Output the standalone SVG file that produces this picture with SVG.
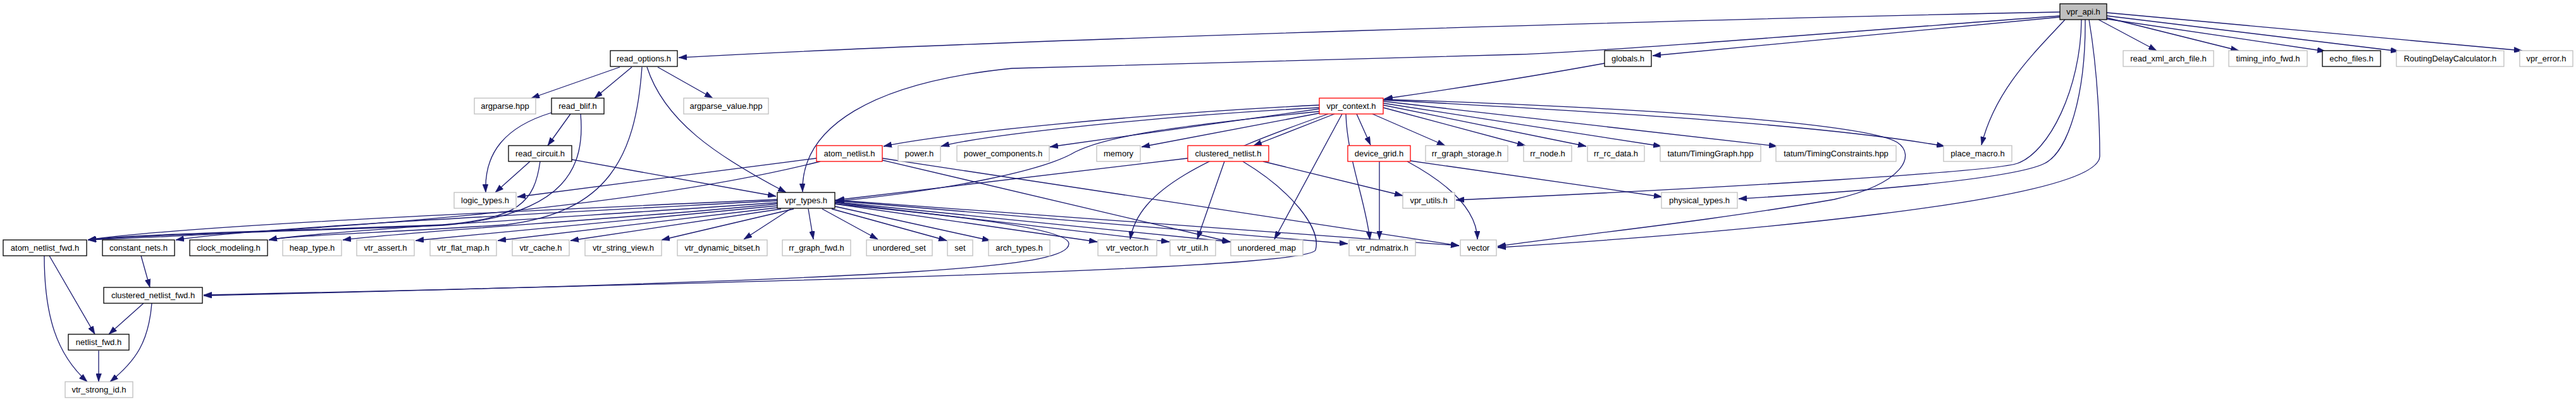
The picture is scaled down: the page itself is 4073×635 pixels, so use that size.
<svg xmlns="http://www.w3.org/2000/svg" width="4073" height="635" viewBox="0 0 4073 635">
<style>
.bg{fill:#ffffff}
rect{fill:#ffffff;stroke-width:1.3}
.ext{stroke:#bfbfbf}
.doc{stroke:#000000}
.trunc{stroke:#ff0000}
.root{fill:#bfbfbf;stroke:#000000}
text{font-family:"Liberation Sans",Arial,Helvetica,sans-serif;font-size:13px;fill:#000000;text-anchor:middle}
.edges path{fill:none;stroke:#191970;stroke-width:1.3;marker-end:url(#arr)}
</style>
<defs>
<marker id="arr" viewBox="0 0 13 9" refX="13" refY="4.5" markerWidth="13" markerHeight="9" markerUnits="userSpaceOnUse" orient="auto">
<path d="M0,0 L13,4.5 L0,9 z" fill="#191970" stroke="#191970" stroke-width="0.5"/>
</marker>
</defs>
<rect class="bg" x="0" y="0" width="4073" height="635" style="stroke:none"/>
<g id="edges" class="edges">
<path d="M3257,19 C2700,30 1600,62 1073,91"/>
<path d="M3257,25 C2900,52 2550,80 2400,86 C2100,94 1800,100 1600,108 C1380,130 1266,200 1269,303"/>
<path d="M3257,27 L2613,88"/>
<path d="M3318,31 L3410,80"/>
<path d="M3331,28 L3540,80"/>
<path d="M3331,30 L3677,81"/>
<path d="M3331,25 L3793,81"/>
<path d="M3331,20 L3988,80"/>
<path d="M3265,31 C3220,80 3155,140 3133,229"/>
<path d="M3291,31 C3290,140 3240,240 3190,258 C3150,272 2700,298 2302,316"/>
<path d="M3297,31 C3298,150 3270,240 3233,258 C3180,285 2900,305 2749,314"/>
<path d="M3303,31 C3318,120 3320,210 3320,247 C3318,320 2700,370 2368,391"/>
<path d="M980,106 L840,155"/>
<path d="M999,106 L940,155"/>
<path d="M1040,106 L1127,155"/>
<path d="M1023,106 C1050,190 1130,245 1243,304"/>
<path d="M1015,106 C1005,250 960,335 800,355 C600,368 460,372 425,379"/>
<path d="M902,180 L866,230"/>
<path d="M872,178 C800,200 765,240 768,304"/>
<path d="M918,180 C925,260 900,340 700,356 C450,366 200,372 139,379"/>
<path d="M838,255 L783,304"/>
<path d="M904,252 L1227,310"/>
<path d="M854,255 C845,320 820,345 700,355 C450,365 200,370 139,379"/>
<path d="M1291,250 L818,311"/>
<path d="M1297,255 C1000,330 500,365 139,379"/>
<path d="M1395,253 L1945,382"/>
<path d="M1395,250 L2307,388"/>
<path d="M2086,166 C1800,180 1500,210 1397,231"/>
<path d="M2086,170 C1800,185 1550,215 1488,231"/>
<path d="M2086,172 L1660,232"/>
<path d="M2090,178 L1805,232"/>
<path d="M2110,180 L1982,230"/>
<path d="M2145,180 L2167,229"/>
<path d="M2170,180 L2285,230"/>
<path d="M2187,170 L2412,230"/>
<path d="M2187,166 L2508,231"/>
<path d="M2187,163 L2627,231"/>
<path d="M2187,160 L2810,231"/>
<path d="M2187,158 C2600,180 2900,200 3075,231"/>
<path d="M2187,157 C2600,170 2950,195 3000,225 C3030,245 3010,290 2900,315 C2700,350 2500,370 2368,389"/>
<path d="M2086,176 C1850,200 1750,215 1700,240 C1650,270 1500,300 1322,318"/>
<path d="M2100,180 C1900,250 1800,300 1787,378"/>
<path d="M2122,180 L2015,378"/>
<path d="M2128,180 C2130,250 2160,320 2166,379"/>
<path d="M1878,250 L1322,316"/>
<path d="M1936,255 L1893,378"/>
<path d="M1997,255 L2218,309"/>
<path d="M1965,255 C2040,300 2090,360 2080,395 C2070,420 1500,440 322,466"/>
<path d="M2181,255 L2181,378"/>
<path d="M2225,255 C2290,290 2335,330 2336,378"/>
<path d="M2230,254 L2628,311"/>
<path d="M1229,315 C900,330 300,355 139,379"/>
<path d="M1229,317 C900,335 400,360 278,379"/>
<path d="M1229,320 C950,340 500,365 425,379"/>
<path d="M1229,322 C1000,345 650,365 542,379"/>
<path d="M1229,325 L657,380"/>
<path d="M1229,328 L787,380"/>
<path d="M1235,330 L902,380"/>
<path d="M1255,330 L1046,379"/>
<path d="M1250,330 L1176,378"/>
<path d="M1278,330 L1286,378"/>
<path d="M1300,330 L1388,378"/>
<path d="M1315,330 L1497,380"/>
<path d="M1320,326 L1566,380"/>
<path d="M1320,322 L1735,382"/>
<path d="M1320,320 L1849,382"/>
<path d="M1320,319 L1946,382"/>
<path d="M1320,317 L2131,385"/>
<path d="M1320,316 L2307,388"/>
<path d="M1320,322 C1500,340 1690,360 1690,385 C1690,420 1500,440 322,467"/>
<path d="M78,404 L150,528"/>
<path d="M70,404 C70,500 90,560 138,603"/>
<path d="M223,404 L237,454"/>
<path d="M227,479 L172,528"/>
<path d="M240,479 C235,540 215,570 174,603"/>
<path d="M156,554 L156,603"/>
<path d="M2537,100 C2400,125 2300,140 2189,156"/>
</g>
<g id="node-vpr_api_h"><rect class="root" x="3257" y="6" width="74" height="25"/><text x="3294" y="23">vpr_api.h</text></g>
<g id="node-read_options_h"><rect class="doc" x="965" y="80" width="106" height="25"/><text x="1018" y="97">read_options.h</text></g>
<g id="node-globals_h"><rect class="doc" x="2537" y="80" width="74" height="25"/><text x="2574" y="97">globals.h</text></g>
<g id="node-read_xml_arch_file_h"><rect class="ext" x="3357" y="80" width="143" height="25"/><text x="3428.5" y="97">read_xml_arch_file.h</text></g>
<g id="node-timing_info_fwd_h"><rect class="ext" x="3524" y="80" width="124" height="25"/><text x="3586" y="97">timing_info_fwd.h</text></g>
<g id="node-echo_files_h"><rect class="doc" x="3672" y="80" width="92" height="25"/><text x="3718" y="97">echo_files.h</text></g>
<g id="node-RoutingDelayCalculator_h"><rect class="ext" x="3789" y="80" width="170" height="25"/><text x="3874" y="97">RoutingDelayCalculator.h</text></g>
<g id="node-vpr_error_h"><rect class="ext" x="3984" y="80" width="84" height="25"/><text x="4026" y="97">vpr_error.h</text></g>
<g id="node-argparse_hpp"><rect class="ext" x="750" y="155" width="97" height="25"/><text x="798.5" y="172">argparse.hpp</text></g>
<g id="node-read_blif_h"><rect class="doc" x="872" y="155" width="83" height="25"/><text x="913.5" y="172">read_blif.h</text></g>
<g id="node-argparse_value_hpp"><rect class="ext" x="1081" y="155" width="134" height="25"/><text x="1148" y="172">argparse_value.hpp</text></g>
<g id="node-vpr_context_h"><rect class="trunc" x="2086" y="155" width="101" height="25"/><text x="2136.5" y="172">vpr_context.h</text></g>
<g id="node-read_circuit_h"><rect class="doc" x="804" y="230" width="100" height="25"/><text x="854" y="247">read_circuit.h</text></g>
<g id="node-atom_netlist_h"><rect class="trunc" x="1291" y="230" width="104" height="25"/><text x="1343" y="247">atom_netlist.h</text></g>
<g id="node-power_h"><rect class="ext" x="1420" y="230" width="67" height="25"/><text x="1453.5" y="247">power.h</text></g>
<g id="node-power_components_h"><rect class="ext" x="1513" y="230" width="146" height="25"/><text x="1586" y="247">power_components.h</text></g>
<g id="node-memory"><rect class="ext" x="1734" y="230" width="69" height="25"/><text x="1768.5" y="247">memory</text></g>
<g id="node-clustered_netlist_h"><rect class="trunc" x="1878" y="230" width="128" height="25"/><text x="1942" y="247">clustered_netlist.h</text></g>
<g id="node-device_grid_h"><rect class="trunc" x="2131" y="230" width="99" height="25"/><text x="2180.5" y="247">device_grid.h</text></g>
<g id="node-rr_graph_storage_h"><rect class="ext" x="2254" y="230" width="130" height="25"/><text x="2319" y="247">rr_graph_storage.h</text></g>
<g id="node-rr_node_h"><rect class="ext" x="2409" y="230" width="76" height="25"/><text x="2447" y="247">rr_node.h</text></g>
<g id="node-rr_rc_data_h"><rect class="ext" x="2510" y="230" width="90" height="25"/><text x="2555" y="247">rr_rc_data.h</text></g>
<g id="node-tatum_TimingGraph_hpp"><rect class="ext" x="2625" y="230" width="159" height="25"/><text x="2704.5" y="247">tatum/TimingGraph.hpp</text></g>
<g id="node-tatum_TimingConstraints_hpp"><rect class="ext" x="2808" y="230" width="190" height="25"/><text x="2903" y="247">tatum/TimingConstraints.hpp</text></g>
<g id="node-place_macro_h"><rect class="ext" x="3073" y="230" width="108" height="25"/><text x="3127" y="247">place_macro.h</text></g>
<g id="node-logic_types_h"><rect class="ext" x="718" y="304" width="98" height="25"/><text x="767" y="321">logic_types.h</text></g>
<g id="node-vpr_types_h"><rect class="doc" x="1229" y="304" width="91" height="25"/><text x="1274.5" y="321">vpr_types.h</text></g>
<g id="node-vpr_utils_h"><rect class="ext" x="2218" y="304" width="82" height="25"/><text x="2259" y="321">vpr_utils.h</text></g>
<g id="node-physical_types_h"><rect class="ext" x="2627" y="304" width="120" height="25"/><text x="2687" y="321">physical_types.h</text></g>
<g id="node-atom_netlist_fwd_h"><rect class="doc" x="5" y="379" width="132" height="25"/><text x="71" y="396">atom_netlist_fwd.h</text></g>
<g id="node-constant_nets_h"><rect class="doc" x="162" y="379" width="114" height="25"/><text x="219" y="396">constant_nets.h</text></g>
<g id="node-clock_modeling_h"><rect class="doc" x="300" y="379" width="123" height="25"/><text x="361.5" y="396">clock_modeling.h</text></g>
<g id="node-heap_type_h"><rect class="ext" x="447" y="379" width="93" height="25"/><text x="493.5" y="396">heap_type.h</text></g>
<g id="node-vtr_assert_h"><rect class="ext" x="564" y="379" width="91" height="25"/><text x="609.5" y="396">vtr_assert.h</text></g>
<g id="node-vtr_flat_map_h"><rect class="ext" x="680" y="379" width="105" height="25"/><text x="732.5" y="396">vtr_flat_map.h</text></g>
<g id="node-vtr_cache_h"><rect class="ext" x="810" y="379" width="90" height="25"/><text x="855" y="396">vtr_cache.h</text></g>
<g id="node-vtr_string_view_h"><rect class="ext" x="925" y="379" width="121" height="25"/><text x="985.5" y="396">vtr_string_view.h</text></g>
<g id="node-vtr_dynamic_bitset_h"><rect class="ext" x="1071" y="379" width="142" height="25"/><text x="1142" y="396">vtr_dynamic_bitset.h</text></g>
<g id="node-rr_graph_fwd_h"><rect class="ext" x="1237" y="379" width="108" height="25"/><text x="1291" y="396">rr_graph_fwd.h</text></g>
<g id="node-unordered_set"><rect class="ext" x="1370" y="379" width="104" height="25"/><text x="1422" y="396">unordered_set</text></g>
<g id="node-set"><rect class="ext" x="1498" y="379" width="40" height="25"/><text x="1518" y="396">set</text></g>
<g id="node-arch_types_h"><rect class="ext" x="1563" y="379" width="97" height="25"/><text x="1611.5" y="396">arch_types.h</text></g>
<g id="node-vtr_vector_h"><rect class="ext" x="1736" y="379" width="93" height="25"/><text x="1782.5" y="396">vtr_vector.h</text></g>
<g id="node-vtr_util_h"><rect class="ext" x="1850" y="379" width="72" height="25"/><text x="1886" y="396">vtr_util.h</text></g>
<g id="node-unordered_map"><rect class="ext" x="1946" y="379" width="114" height="25"/><text x="2003" y="396">unordered_map</text></g>
<g id="node-vtr_ndmatrix_h"><rect class="ext" x="2133" y="379" width="105" height="25"/><text x="2185.5" y="396">vtr_ndmatrix.h</text></g>
<g id="node-vector"><rect class="ext" x="2309" y="379" width="57" height="25"/><text x="2337.5" y="396">vector</text></g>
<g id="node-clustered_netlist_fwd_h"><rect class="doc" x="164" y="454" width="156" height="25"/><text x="242" y="471">clustered_netlist_fwd.h</text></g>
<g id="node-netlist_fwd_h"><rect class="doc" x="108" y="528" width="96" height="25"/><text x="156" y="545">netlist_fwd.h</text></g>
<g id="node-vtr_strong_id_h"><rect class="ext" x="103" y="603" width="107" height="25"/><text x="156.5" y="620">vtr_strong_id.h</text></g>
</svg>
